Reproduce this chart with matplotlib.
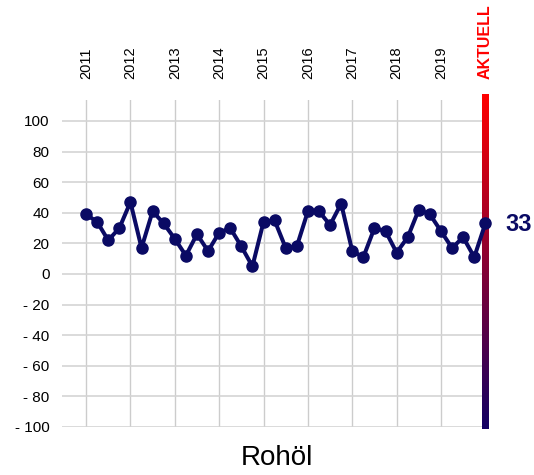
import numpy as np
import matplotlib.pyplot as plt
from matplotlib.colors import LinearSegmentedColormap

plt.rcParams['font.family'] = ['Liberation Sans', 'DejaVu Sans']

# quarterly values 2011..2019 plus current value
years = ['2011', '2012', '2013', '2014', '2015', '2016', '2017', '2018', '2019']
current_label = 'AKTUELL'
values = [39, 34, 22, 30,
          47, 17, 41, 33,
          23, 12, 26, 15,
          27, 30, 18, 5,
          34, 35, 17, 18,
          41, 41, 32, 46,
          15, 11, 30, 28,
          14, 24, 42, 39,
          28, 17, 24, 11,
          33]
y_ticks = [100, 80, 60, 40, 20, 0, -20, -40, -60, -80, -100]
title = 'Rohöl'

navy = '#0a0a64'

fig = plt.figure(figsize=(5.34, 4.75), dpi=100)
ax = fig.add_axes([62 / 534, 1 - 427 / 475, (489 - 62) / 534, (427 - 100) / 475])

x = np.arange(len(values))
last = len(values) - 1

# gradient bar at the current position
cmap = LinearSegmentedColormap.from_list('bar', ['#120064', '#ff0000'])
grad = np.linspace(0, 1, 256).reshape(-1, 1)
ax.imshow(grad, cmap=cmap, origin='lower', aspect='auto',
          extent=[last - 0.3, last + 0.3, -101.5, 117], clip_on=False, zorder=3)

ax.plot(x, values, color=navy, lw=2.9, marker='o', ms=8, zorder=4, clip_on=False)

ax.set_xlim(-2.17, last + 0.33)
ax.set_ylim(-100, 113.7)

# grid
year_pos = [i * 4 for i in range(len(years))]
for p in year_pos:
    ax.axvline(p, color='#cccccc', lw=1, zorder=1)
for t in y_ticks:
    ax.axhline(t, color='#d4d4d4', lw=1.2, zorder=1)

ax.set_yticks(y_ticks)
ax.set_yticklabels([str(t) if t >= 0 else '- ' + str(-t) for t in y_ticks], fontsize=11)
ax.tick_params(axis='y', length=0, pad=9)

ax.xaxis.tick_top()
ax.set_xticks(year_pos + [last])
ax.set_xticklabels(years + [current_label], rotation=90, fontsize=10.5)
ax.tick_params(axis='x', length=0, pad=15)
lbl = ax.get_xticklabels()[-1]
lbl.set_color('#ff0000')
lbl.set_fontweight('bold')
lbl.set_fontsize(11.5)

for s in ax.spines.values():
    s.set_visible(False)

ax.annotate(str(values[-1]), xy=(last, values[-1]), xytext=(14.5, -1),
            textcoords='offset points', ha='left', va='center',
            fontsize=17, fontweight='bold', color=navy)

fig.text(277 / 534, 1 - 465 / 475, title, ha='center', va='baseline', fontsize=20)

fig.savefig('out.png', dpi=100)
